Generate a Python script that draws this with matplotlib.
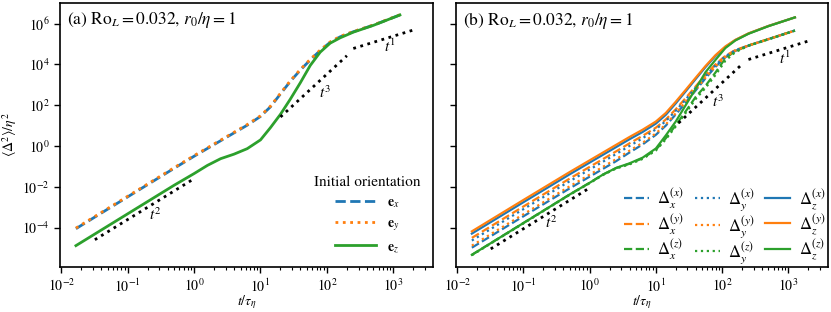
import numpy as np
import matplotlib
matplotlib.use('Agg')
import matplotlib.pyplot as plt
from matplotlib.ticker import LogLocator, NullLocator, FixedLocator

plt.rcParams['font.family'] = ['STIXGeneral', 'DejaVu Serif']
plt.rcParams['mathtext.fontset'] = 'stix'
plt.rcParams['font.size'] = 10
plt.rcParams['axes.linewidth'] = 1.2

# common time grid (log10 of t/tau_eta)
logt = np.array([-1.78, -1.0, -0.3, 0.0, 0.2, 0.4, 0.6, 0.8, 1.0, 1.15,
                 1.3, 1.45, 1.6, 1.75, 1.9, 2.05, 2.2, 2.4, 2.7, 3.1])

# panel (a): log10 <Delta^2>/eta^2 for each initial orientation
a_ex = [-4.05, -2.49, -1.09, -0.50, -0.12, 0.26, 0.64, 1.02, 1.45, 1.92,
        2.55, 3.17, 3.72, 4.22, 4.68, 5.08, 5.35, 5.60, 5.92, 6.42]
a_ey = [-4.02, -2.46, -1.06, -0.47, -0.09, 0.29, 0.67, 1.05, 1.48, 1.95,
        2.58, 3.20, 3.75, 4.25, 4.70, 5.10, 5.37, 5.61, 5.93, 6.43]
a_ez = [-4.88, -3.32, -1.92, -1.35, -0.95, -0.62, -0.40, -0.13, 0.30, 0.90,
        1.55, 2.30, 3.10, 3.95, 4.60, 5.04, 5.30, 5.58, 5.91, 6.42]

# panel (b): components Delta_i^(j), i = component, j = initial orientation
b_xx = [-4.98, -3.44, -2.07, -1.50, -1.12, -0.74, -0.32, 0.08, 0.55, 1.00,
        1.55, 2.12, 2.72, 3.32, 3.88, 4.35, 4.66, 4.92, 5.24, 5.66]
b_xy = [-4.50, -2.96, -1.59, -1.02, -0.64, -0.26, 0.13, 0.50, 0.90, 1.30,
        1.80, 2.35, 2.92, 3.48, 4.00, 4.42, 4.70, 4.93, 5.24, 5.66]
b_xz = [-5.33, -3.77, -2.37, -1.80, -1.40, -1.08, -0.87, -0.60, -0.18, 0.38,
        1.02, 1.70, 2.40, 2.95, 3.60, 4.30, 4.65, 4.92, 5.23, 5.66]
b_yx = [-4.63, -3.09, -1.72, -1.15, -0.77, -0.39, 0.00, 0.38, 0.82, 1.22,
        1.73, 2.28, 2.86, 3.43, 3.96, 4.40, 4.69, 4.92, 5.23, 5.65]
b_yy = [-4.88, -3.34, -1.97, -1.40, -1.02, -0.64, -0.23, 0.16, 0.62, 1.06,
        1.60, 2.17, 2.76, 3.35, 3.90, 4.36, 4.67, 4.92, 5.23, 5.65]
b_yz = [-5.35, -3.79, -2.39, -1.82, -1.42, -1.10, -0.90, -0.63, -0.22, 0.33,
        0.96, 1.62, 2.30, 2.85, 3.48, 4.18, 4.60, 4.91, 5.23, 5.65]
b_zx = [-4.29, -2.75, -1.38, -0.81, -0.43, -0.05, 0.33, 0.69, 1.10, 1.53,
        2.09, 2.68, 3.28, 3.87, 4.41, 4.85, 5.19, 5.51, 5.88, 6.30]
b_zy = [-4.18, -2.64, -1.27, -0.70, -0.32, 0.06, 0.44, 0.80, 1.20, 1.62,
        2.17, 2.75, 3.34, 3.92, 4.45, 4.88, 5.20, 5.52, 5.88, 6.30]
b_zz = [-5.33, -3.77, -2.37, -1.80, -1.40, -1.07, -0.85, -0.57, -0.12, 0.52,
        1.20, 2.00, 2.80, 3.62, 4.22, 4.80, 5.17, 5.50, 5.87, 6.30]

# power-law guides: (t_start, t_end, prefactor) per panel
guides_a = {2: (0.032, 1.0, 10**-1.6), 3: (20, 200, 10**-2.48), 1: (250, 2000, 10**2.38)}
guides_b = {2: (0.032, 1.0, 10**-2.05), 3: (22, 190, 10**-2.9), 1: (250, 2000, 10**1.84)}
labels_a = {2: (0.26, 10**-3.37), 3: (95, 10**2.63), 1: (890, 10**4.88)}
labels_b = {2: (0.26, 10**-3.76), 3: (87, 10**2.15), 1: (890, 10**4.30)}

blue, orange, green = '#1f77b4', '#ff7f0e', '#2ca02c'
t = 10**logt

fig = plt.figure(figsize=(8.31, 3.12), dpi=100)
ax1 = fig.add_axes([0.0722, 0.144, 0.449, 0.846])
ax2 = fig.add_axes([0.5487, 0.144, 0.4477, 0.846], sharey=ax1)

ax1.loglog(t, 10**np.array(a_ex), '--', color=blue, lw=2, label=r'$\mathbf{e}_x$')
ax1.loglog(t, 10**np.array(a_ey), ':', color=orange, lw=2, label=r'$\mathbf{e}_y$')
ax1.loglog(t, 10**np.array(a_ez), '-', color=green, lw=2, label=r'$\mathbf{e}_z$')

series_b = [(b_xx, '--', blue, 'x', 'x'), (b_xy, '--', orange, 'x', 'y'), (b_xz, '--', green, 'x', 'z'),
            (b_yx, ':', blue, 'y', 'x'), (b_yy, ':', orange, 'y', 'y'), (b_yz, ':', green, 'y', 'z'),
            (b_zx, '-', blue, 'z', 'x'), (b_zy, '-', orange, 'z', 'y'), (b_zz, '-', green, 'z', 'z')]
for vals, ls, c, i, j in series_b:
    ax2.loglog(t, 10**np.array(vals), ls, color=c, lw=1.6,
               label=r'$\Delta_%s^{(%s)}$' % (i, j))

for ax, guides, labs in [(ax1, guides_a, labels_a), (ax2, guides_b, labels_b)]:
    for p, (t0, t1, pre) in guides.items():
        tt = np.array([t0, t1])
        ax.loglog(tt, pre * tt**p, ':', color='k', lw=2)
        ax.text(labs[p][0], labs[p][1], r'$t^{%d}$' % p, fontsize=11, ha='center', va='center')
    ax.set_xlim(10**-2.02, 10**3.6)
    ax.set_ylim(10**-5.93, 10**7.0)
    ax.xaxis.set_major_locator(LogLocator(base=10, numticks=20))
    ax.xaxis.set_minor_locator(LogLocator(base=10, subs=np.arange(2, 10), numticks=50))
    ax.yaxis.set_major_locator(FixedLocator([1e-4, 1e-2, 1, 1e2, 1e4, 1e6]))
    ax.yaxis.set_minor_locator(NullLocator())
    ax.tick_params(which='major', length=4, width=1)
    ax.tick_params(which='minor', length=2.5, width=0.8)
    ax.set_xlabel(r'$t/\tau_\eta$', labelpad=-1)

ax2.tick_params(labelleft=False)
ax1.set_ylabel(r'$\langle\Delta^2\rangle/\eta^2$', labelpad=2)

ax1.text(0.02, 0.975, r'(a) Ro$_L = 0.032$, $r_0/\eta = 1$', transform=ax1.transAxes,
         fontsize=12.5, va='top', ha='left')
ax2.text(0.02, 0.975, r'(b) Ro$_L = 0.032$, $r_0/\eta = 1$', transform=ax2.transAxes,
         fontsize=12.5, va='top', ha='left')

ax1.legend(title='Initial orientation', loc='lower right', frameon=False,
           handlelength=3, fontsize=10, title_fontsize=11)
ax2.legend(loc='lower right', bbox_to_anchor=(1.02, -0.035), ncol=3, frameon=False,
           handlelength=1.5, handletextpad=0.5, columnspacing=0.65, labelspacing=0.05,
           borderaxespad=0.2, fontsize=12)

fig.savefig('out.png', dpi=100)
